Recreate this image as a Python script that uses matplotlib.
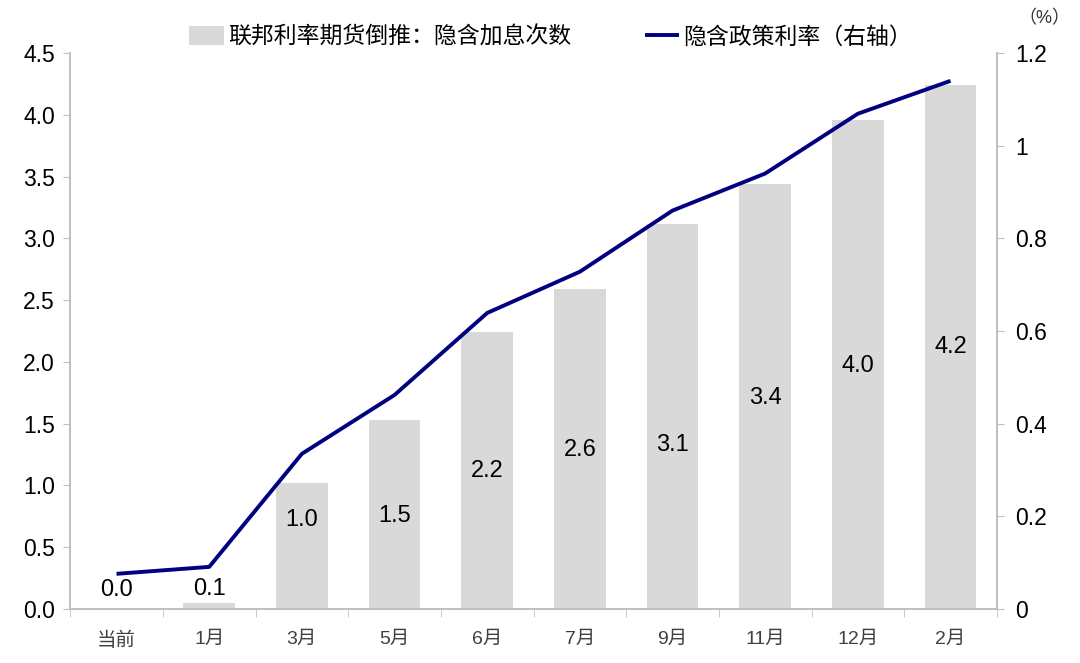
import matplotlib
matplotlib.use("Agg")
import matplotlib.pyplot as plt
import numpy as np

# data
categories = ["当前", "1月", "3月", "5月", "6月", "7月", "9月", "11月", "12月", "2月"]
hikes = [0.0, 0.05, 1.02, 1.53, 2.24, 2.59, 3.12, 3.44, 3.96, 4.24]
policy_rate = [0.076, 0.091, 0.335, 0.462, 0.639, 0.728, 0.860, 0.940, 1.069, 1.140]
hike_labels = ["0.0", "0.1", "1.0", "1.5", "2.2", "2.6", "3.1", "3.4", "4.0", "4.2"]
left_ticks = [0.0, 0.5, 1.0, 1.5, 2.0, 2.5, 3.0, 3.5, 4.0, 4.5]
right_ticks = [0, 0.2, 0.4, 0.6, 0.8, 1.0, 1.2]

# where the value labels sit (left-axis units)
label_y = [0.15, 0.16, 0.72, 0.75, 1.12, 1.29, 1.33, 1.71, 1.97, 2.12]

plt.rcParams['font.family'] = ['Liberation Sans', 'Noto Sans CJK SC', 'DejaVu Sans']

BAR_COLOR = "#d9d9d9"
LINE_COLOR = "#000080"
SPINE_COLOR = "#bfbfbf"

fig = plt.figure(figsize=(10.8, 6.63), dpi=100)
ax = fig.add_axes([0.065, 0.0814, 0.858, 0.8386])
ax2 = ax.twinx()

x = np.arange(len(categories))
bars = ax.bar(x, hikes, width=0.56, color=BAR_COLOR, zorder=1,
              label="联邦利率期货倒推：隐含加息次数")
line, = ax2.plot(x, policy_rate, color=LINE_COLOR, lw=2.8, solid_capstyle="butt",
                 label="隐含政策利率（右轴）")

for xi, yi, txt in zip(x, label_y, hike_labels):
    ax.text(xi, yi, txt, ha="center", va="center", fontsize=17, color="black")

ax.set_xlim(-0.5, len(categories) - 0.5)
ax.set_ylim(0, 4.5)
ax2.set_ylim(0, 1.2)

ax.set_yticks(left_ticks)
ax.set_yticklabels([f"{t:.1f}" for t in left_ticks], fontsize=16.5)
ax2.set_yticks(right_ticks)
ax2.set_yticklabels([f"{t:g}" for t in right_ticks], fontsize=16.5)

ax.set_xticks(x)
ax.set_xticklabels(categories, fontsize=14, color="#404040")
ax.set_xticks(np.arange(len(categories) + 1) - 0.5, minor=True)
ax.tick_params(axis="x", which="major", length=0, pad=16)
ax.tick_params(axis="x", which="minor", length=6, color=SPINE_COLOR, direction="out")
ax.tick_params(axis="y", length=5, color=SPINE_COLOR, pad=6)
ax2.tick_params(axis="y", length=5, color=SPINE_COLOR, pad=8)

for a in (ax, ax2):
    a.spines["top"].set_visible(False)
    for s in ("left", "right", "bottom"):
        a.spines[s].set_color(SPINE_COLOR)
        a.spines[s].set_linewidth(1.2)

fig.text(0.967, 0.972, "（%）", ha="center", va="center", fontsize=13, color="#333333")

fig.legend([bars, line], [bars.get_label(), line.get_label()],
           loc="center", bbox_to_anchor=(0.51, 0.944), ncol=2, frameon=False,
           fontsize=16.5, handlelength=1.5, handleheight=0.9, handletextpad=0.2,
           columnspacing=3.2)

fig.savefig("out.png", dpi=100)
